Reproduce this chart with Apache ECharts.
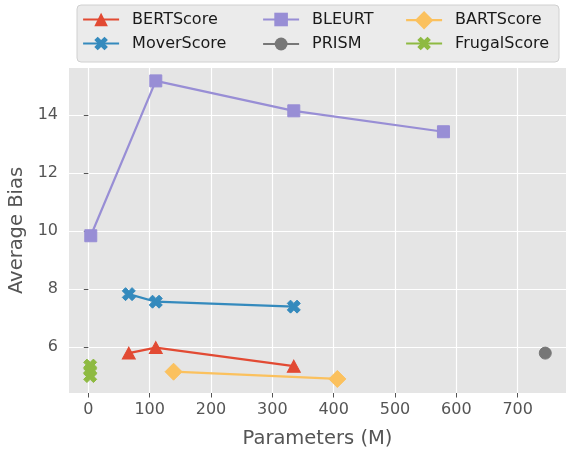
<!DOCTYPE html>
<html>
<head>
<meta charset="utf-8">
<script src="https://cdn.jsdelivr.net/npm/echarts@6/dist/echarts.min.js"></script>
<style>
  html, body { margin: 0; padding: 0; background: #ffffff; }
  #chart { width: 566px; height: 450px; }
</style>
</head>
<body>
<div id="chart"></div>
<script>
// Tick positions
const xTicks = [0, 100, 200, 300, 400, 500, 600, 700];
const yTicks = [6, 8, 10, 12, 14];

// Model size (millions of parameters) and average bias per metric
const bertParams = [66, 110, 335];
const bertBias = [5.80, 5.99, 5.35];

const moverParams = [66, 110, 335];
const moverBias = [7.83, 7.57, 7.40];

const bleurtParams = [4, 110, 335, 579];
const bleurtBias = [9.84, 15.17, 14.14, 13.42];

const prismParams = [745];
const prismBias = [5.80];

const bartParams = [139, 406];
const bartBias = [5.16, 4.91];

const frugalParams = [3, 3, 3];
const frugalBias = [5.37, 5.20, 5.01];

const FONT = 'DejaVu Sans';
const X_MARK = 'path://M3,0L4,1L3,2L4,3L3,4L2,3L1,4L0,3L1,2L0,1L1,0L2,1Z';

function pairs(xs, ys) {
  return xs.map((x, i) => [x, ys[i]]);
}

function lineSeries(name, xs, ys, color, symbol, size) {
  return {
    name: name,
    type: 'line',
    data: pairs(xs, ys),
    symbol: symbol,
    symbolSize: size,
    showAllSymbol: true,
    lineStyle: { color: color, width: 2.2 },
    itemStyle: { color: color, opacity: 1, borderColor: color, borderWidth: 1 },
    emphasis: { disabled: true },
    animation: false
  };
}

// One legend entry per component so each icon can have its own size.
// left = left edge of the entry, cy = vertical centre of the row.
function legendEntry(name, left, cy, h) {
  return {
    data: [name],
    left: left,
    top: cy - h / 2,
    itemWidth: 36,
    itemHeight: h,
    selectedMode: false,
    padding: 0,
    lineStyle: { width: 2.2 },
    itemStyle: { borderWidth: 0 },
    textStyle: { fontFamily: FONT, fontSize: 16, color: '#1a1a1a', padding: [0, 0, 0, 8] }
  };
}

const chart = echarts.init(document.getElementById('chart'), null, { renderer: 'canvas' });

chart.setOption({
  animation: false,
  textStyle: { fontFamily: FONT },
  grid: {
    left: 69, right: 0, top: 68, bottom: 57,
    outerBoundsMode: 'none',
    containLabel: false,
    show: true, backgroundColor: '#E5E5E5', borderWidth: 0
  },
  graphic: [{
    type: 'rect',
    z: -1,
    shape: { x: 77, y: 5, width: 482, height: 57, r: 4 },
    style: { fill: '#EBEBEB', stroke: '#D0D0D0', lineWidth: 1 }
  }],
  legend: [
    legendEntry('BERTScore', 82, 20, 17),
    legendEntry('MoverScore', 82, 44, 17),
    legendEntry('BLEURT', 262, 20, 17),
    legendEntry('PRISM', 262, 44, 16),
    legendEntry('BARTScore', 405, 22.5, 23),
    legendEntry('FrugalScore', 405, 44, 17)
  ],
  xAxis: {
    type: 'value',
    min: -31.5,
    max: 778.8,
    name: 'Parameters (M)',
    nameLocation: 'middle',
    nameGap: 36,
    nameTextStyle: { fontFamily: FONT, fontSize: 19.5, color: '#555555' },
    axisLine: { show: false },
    axisTick: { show: true, customValues: xTicks, length: 4.5, lineStyle: { color: '#555555', width: 1 } },
    axisLabel: { customValues: xTicks, fontFamily: FONT, fontSize: 16, color: '#555555', margin: 9 },
    splitLine: { show: true, lineStyle: { color: '#FFFFFF', width: 1.2 } }
  },
  yAxis: {
    type: 'value',
    min: 4.427,
    max: 15.614,
    name: 'Average Bias',
    nameLocation: 'middle',
    nameGap: 42,
    nameTextStyle: { fontFamily: FONT, fontSize: 19.5, color: '#555555' },
    axisLine: { show: false },
    axisTick: { show: true, customValues: yTicks, length: 4.5, lineStyle: { color: '#555555', width: 1 } },
    axisLabel: { customValues: yTicks, fontFamily: FONT, fontSize: 16, color: '#555555', margin: 11 },
    splitLine: { show: true, lineStyle: { color: '#FFFFFF', width: 1.2 } }
  },
  series: [
    lineSeries('BERTScore', bertParams, bertBias, '#E24A33', 'triangle', [13, 12]),
    lineSeries('MoverScore', moverParams, moverBias, '#348ABD', X_MARK, 13),
    lineSeries('BLEURT', bleurtParams, bleurtBias, '#988ED5', 'rect', 12),
    lineSeries('PRISM', prismParams, prismBias, '#777777', 'circle', 12),
    lineSeries('BARTScore', bartParams, bartBias, '#FBC15E', 'diamond', 17),
    lineSeries('FrugalScore', frugalParams, frugalBias, '#8EBA42', X_MARK, 13)
  ]
});
</script>
</body>
</html>
